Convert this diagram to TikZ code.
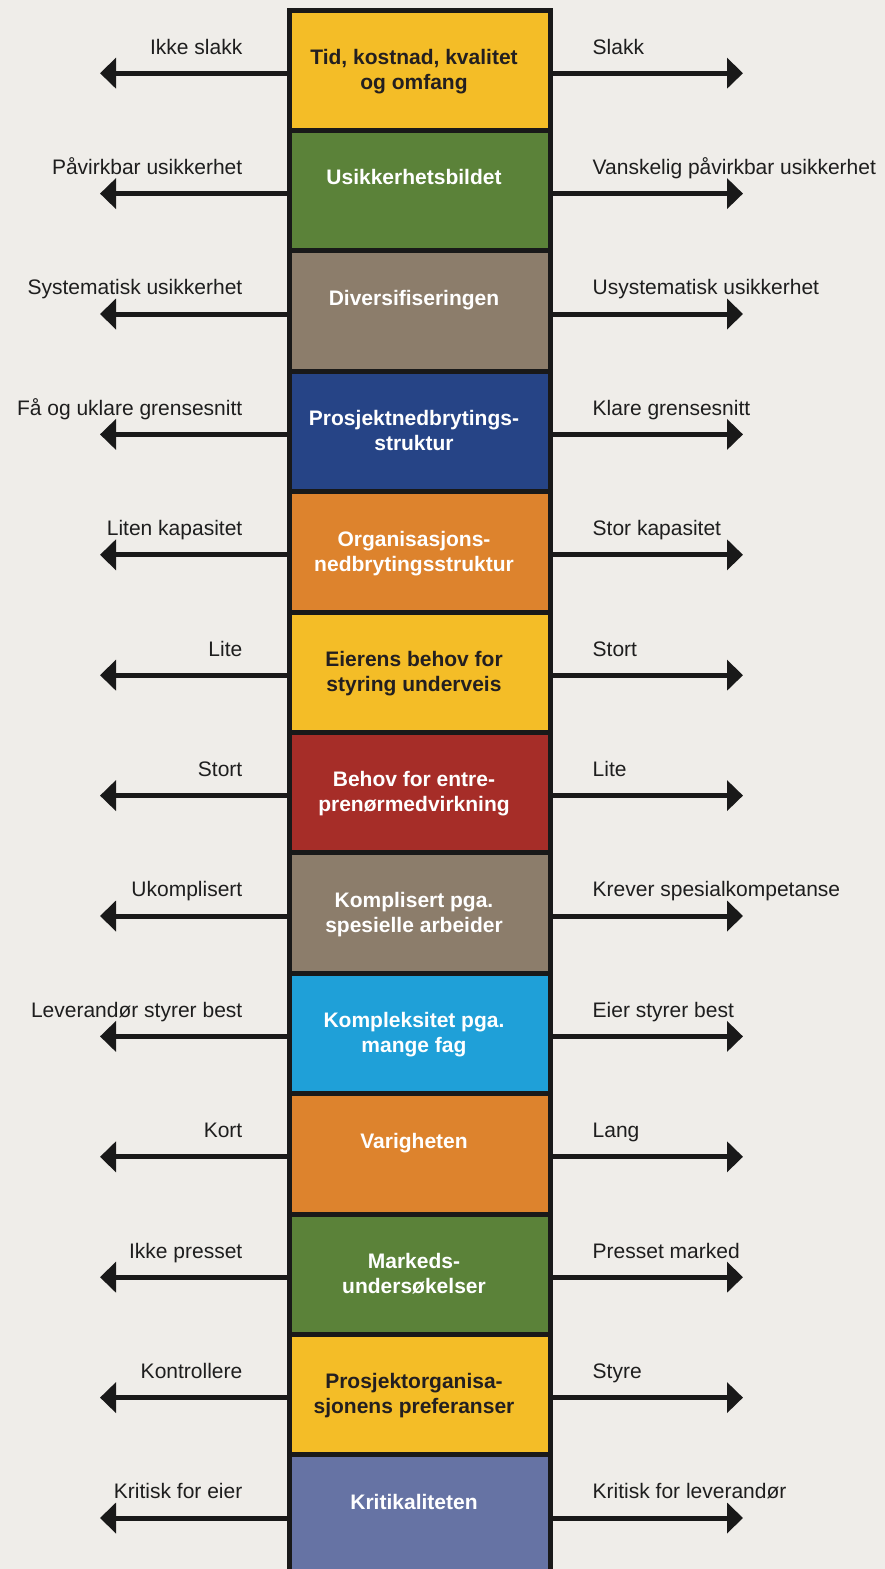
\documentclass[tikz,border=0pt]{standalone}
\usepackage{fontspec}
\setmainfont{Liberation Sans}
\usepackage{tikz}
\usetikzlibrary{arrows.meta, positioning, calc}
\definecolor{bakgrunn}{RGB}{239,237,233}
\definecolor{gul}{RGB}{244,189,39}
\definecolor{gronn}{RGB}{91,130,57}
\definecolor{graabrun}{RGB}{140,125,107}
\definecolor{morkblaa}{RGB}{38,68,134}
\definecolor{oransje}{RGB}{221,131,45}
\definecolor{rod}{RGB}{166,45,40}
\definecolor{lysblaa}{RGB}{31,160,216}
\definecolor{skifer}{RGB}{102,115,164}
\definecolor{mork}{RGB}{35,31,32}
\definecolor{etikett}{RGB}{30,30,30}
\tikzset{blokk/.style = {
  rectangle,
  draw=black!90, line width=5pt,
  minimum width=261pt, minimum height=120.4pt,
  outer sep=0pt, inner sep=0pt
  }}
\tikzset{blokktekst/.style = {
  font=\fontsize{21}{25}\selectfont\bfseries,
  align=center, inner sep=0pt
  }}
\tikzset{etikett/.style = {
  font=\fontsize{21}{25}\selectfont,
  text=etikett, inner sep=0pt,
  text height=15pt, text depth=4pt
  }}
\tikzset{pil/.style = {
  -{Triangle[length=16pt, width=30pt]},
  line width=5pt, draw=black!90
  }}

\begin{document}
\begin{tikzpicture}[x=1pt, y=1pt]

	% Ramme og bakgrunn
    \useasboundingbox (0,0) rectangle (885,-1569);
    \clip (0,0) rectangle (885,-1569);
    \fill[bakgrunn] (0,0) rectangle (885,-1569);

    % Blokker med piler
    \foreach \i/\farge/\tfarge/\tekst/\venstre/\hoyre in {
      1/gul/mork/{Tid, kostnad, kvalitet\\og omfang}/{Ikke slakk}/{Slakk},
      2/gronn/white/{Usikkerhetsbildet}/{Påvirkbar usikkerhet}/{Vanskelig påvirkbar usikkerhet},
      3/graabrun/white/{Diversifiseringen}/{Systematisk usikkerhet}/{Usystematisk usikkerhet},
      4/morkblaa/white/{Prosjektnedbrytings-\\struktur}/{Få og uklare grensesnitt}/{Klare grensesnitt},
      5/oransje/white/{Organisasjons-\\nedbrytingsstruktur}/{Liten kapasitet}/{Stor kapasitet},
      6/gul/mork/{Eierens behov for\\styring underveis}/{Lite}/{Stort},
      7/rod/white/{Behov for entre-\\prenørmedvirkning}/{Stort}/{Lite},
      8/graabrun/white/{Komplisert pga.\\spesielle arbeider}/{Ukomplisert}/{Krever spesialkompetanse},
      9/lysblaa/white/{Kompleksitet pga.\\mange fag}/{Leverandør styrer best}/{Eier styrer best},
      10/oransje/white/{Varigheten}/{Kort}/{Lang},
      11/gronn/white/{Markeds-\\undersøkelser}/{Ikke presset}/{Presset marked},
      12/gul/mork/{Prosjektorganisa-\\sjonens preferanser}/{Kontrollere}/{Styre},
      13/skifer/white/{Kritikaliteten}/{Kritisk for eier}/{Kritisk for leverandør}}
    {
    	\node[blokk, fill=\farge] (box\i) at (420,{-70.2-120.4*(\i-1)}) {};
    	\node[blokktekst, text=\tfarge, below=39pt of box\i.north, xshift=-6pt] (txt\i) {\tekst};
    	\coordinate (vp\i) at ([xshift=-189.5pt, yshift=-3pt]box\i.west);
    	\coordinate (hp\i) at ([xshift=192.5pt, yshift=-3pt]box\i.east);
    	\draw[pil] ([yshift=-3pt]box\i.west) -- (vp\i);
    	\draw[pil] ([yshift=-3pt]box\i.east) -- (hp\i);
    	\node[etikett, above left=12pt and 47pt of box\i.west] (venstre\i) {\venstre};
    	\node[etikett, above right=12pt and 42pt of box\i.east] (hoyre\i) {\hoyre};
    }

\end{tikzpicture}
\end{document}
